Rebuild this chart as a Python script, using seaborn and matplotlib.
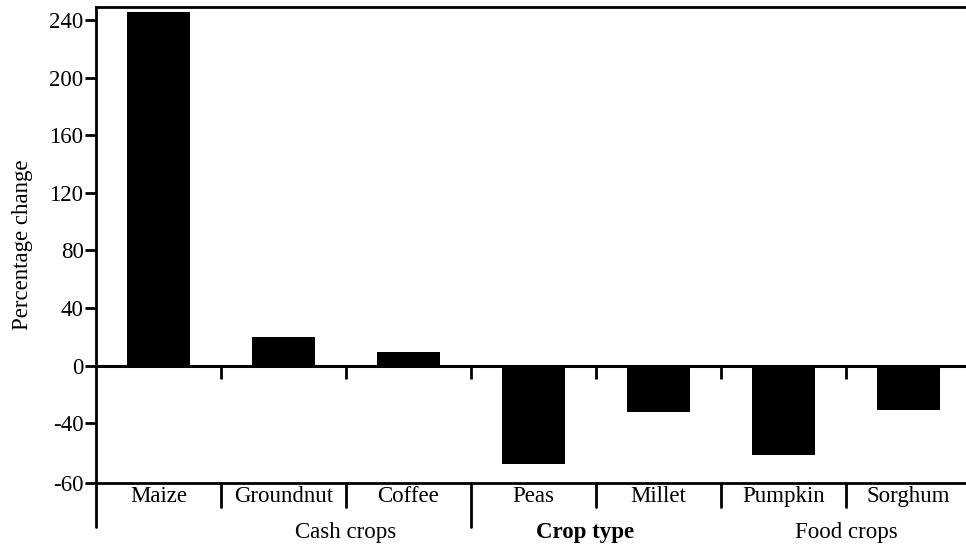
import matplotlib
matplotlib.use("Agg")
import matplotlib.pyplot as plt
import matplotlib.transforms as mtransforms
import seaborn as sns
import pandas as pd

crops = ["Maize", "Groundnut", "Coffee", "Peas", "Millet", "Pumpkin", "Sorghum"]
pct_change = [245.5, 20.2, 9.7, -68.0, -32.0, -62.0, -30.6]
ytick_values = [240, 200, 160, 120, 80, 40, 0, -40]
ytick_labels = ["240", "200", "160", "120", "80", "40", "0", "-40"]
bottom_label = "-60"
group_labels = ["Cash crops", "Crop type", "Food crops"]

df = pd.DataFrame({"crop": crops, "change": pct_change})

sns.set_theme(style="white")
plt.rcParams["font.family"] = ["Liberation Serif", "DejaVu Serif"]
plt.rcParams["text.color"] = "black"
plt.rcParams["axes.labelcolor"] = "black"
plt.rcParams["xtick.color"] = "black"
plt.rcParams["ytick.color"] = "black"
FS = 16.5

fig = plt.figure(figsize=(9.66, 5.46), dpi=100)
ax = fig.add_axes([96 / 966, (546 - 483) / 546, 875 / 966, (483 - 7) / 546])

sns.barplot(data=df, x="crop", y="change", color="black", saturation=1,
            width=0.5, ax=ax, edgecolor="none")

ymin, ymax = -81.4, 249.0
ax.set_ylim(ymin, ymax)
ax.set_xlim(-0.5, 6.5)

ax.set_yticks(ytick_values + [ymin])
ax.set_yticklabels(ytick_labels + [bottom_label], fontsize=FS)
ax.tick_params(axis="y", length=8, width=2, color="black", pad=1, left=True)

ax.set_xticks(range(len(crops)))
ax.set_xticklabels(crops, fontsize=FS)
ax.tick_params(axis="x", length=0, pad=2)

ax.set_xlabel("")
ax.set_ylabel("Percentage change", fontsize=FS, labelpad=12)

for s in ["left", "top", "bottom"]:
    ax.spines[s].set_visible(True)
    ax.spines[s].set_linewidth(2)
    ax.spines[s].set_color("black")
ax.spines["right"].set_visible(False)

# zero line
ax.axhline(0, color="black", lw=2.2, zorder=3)

n = len(crops)
bounds = [i + 0.5 for i in range(n - 1)]
# ticks down from zero line
ax.vlines(bounds, -9.5, 0, color="black", lw=2, zorder=3)

# separators below axes
trans = mtransforms.blended_transform_factory(ax.transData, ax.transAxes)
for b in bounds:
    long = (b == 2.5)
    ax.plot([b, b], [0, -0.0924 if long else -0.0504], color="black", lw=2,
            transform=trans, clip_on=False)
ax.plot([-0.5, -0.5], [0, -0.0924], color="black", lw=2,
        transform=trans, clip_on=False)

group_x = [1.5, 3.41, 5.5]
for gx, gl in zip(group_x, group_labels):
    ax.text(gx, -0.105, gl, transform=trans, ha="center", va="center",
            fontsize=FS, fontweight="bold" if gl == "Crop type" else "normal")

fig.savefig("out.png", dpi=100)
